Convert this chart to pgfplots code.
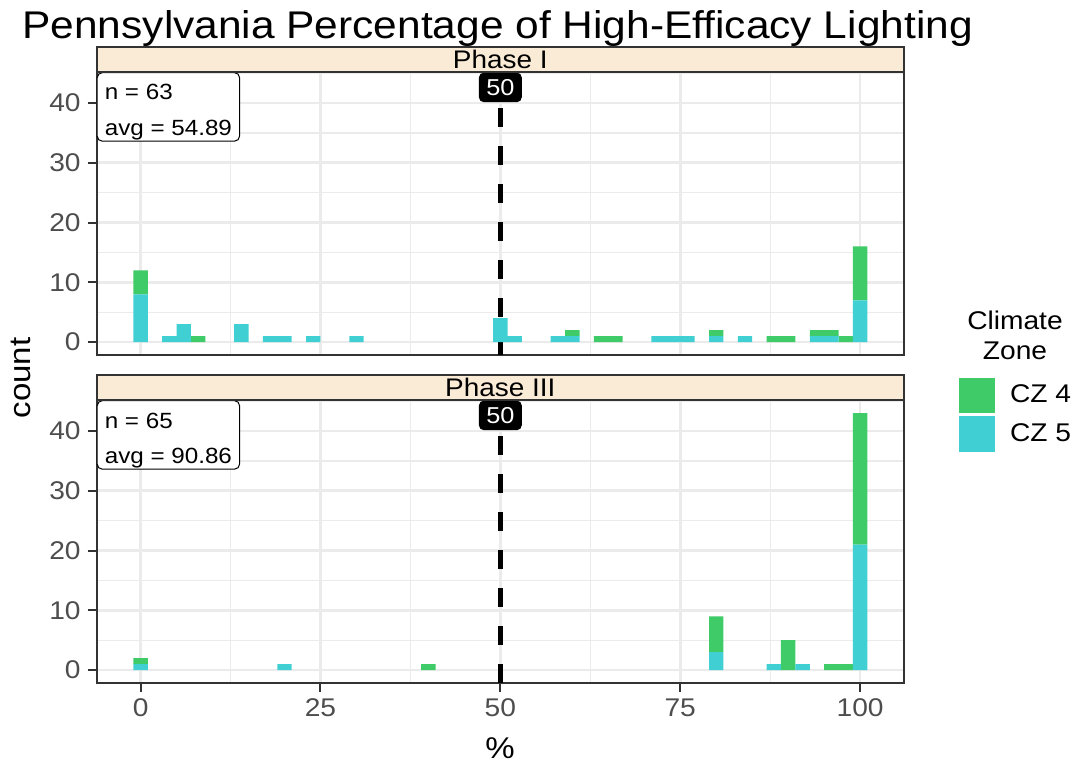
\documentclass[border=0pt]{standalone}
\usepackage{pgfplots}
\pgfplotsset{compat=1.18}
\usepackage{pgfplotstable}
\usepackage{fontspec}
\setmainfont{Liberation Sans}[FakeStretch=1.1]

\definecolor{czfour}{RGB}{63,203,104}
\definecolor{czfive}{RGB}{64,207,211}
\definecolor{gridc}{RGB}{235,235,235}
\definecolor{borderc}{RGB}{51,51,51}
\definecolor{ticklab}{RGB}{77,77,77}
\definecolor{stripc}{RGB}{250,235,215}

% Phase I histogram counts (bin centre, CZ 5, CZ 4)
\pgfplotstableread{
bin cz5 cz4
0   8 4
4   1 0
6   3 0
8   0 1
14  3 0
18  1 0
20  1 0
24  1 0
30  1 0
50  4 0
52  1 0
58  1 0
60  1 1
64  0 1
66  0 1
72  1 0
74  1 0
76  1 0
80  1 1
84  1 0
88  0 1
90  0 1
94  1 1
96  1 1
98  0 1
100 7 9
}\phaseone

% Phase III histogram counts
\pgfplotstableread{
bin cz5 cz4
0   1 1
20  1 0
40  0 1
80  3 6
88  1 0
90  0 5
92  1 0
96  0 1
98  0 1
100 21 22
}\phasethree

\pgfplotsset{
  panel/.style={
    width=403.65pt, height=141.4pt, scale only axis,
    xmin=-6.1, xmax=106.1, ymin=-2.15, ymax=45.15,
    xtick={0,25,50,75,100}, ytick={0,10,20,30,40},
    minor xtick={12.5,37.5,62.5,87.5}, minor ytick={5,15,25,35,45},
    xmajorgrids, ymajorgrids, xminorgrids, yminorgrids,
    major grid style={line width=1.3pt, color=gridc},
    minor grid style={line width=0.65pt, color=gridc},
    axis line style={line width=1pt, color=borderc},
    tick align=outside, xtick pos=bottom, ytick pos=left,
    major tick length=4.5pt, minor tick length=0pt,
    every tick/.style={line width=1pt, color=borderc},
    tick label style={font=\fontsize{12.8}{14}\selectfont, text=ticklab},
    /pgf/number format/assume math mode=true,
    ybar stacked, bar width=2,
    clip=false,
  },
}
\tikzset{
  strip/.style={fill=stripc, draw=borderc, line width=1pt},
  striptext/.style={font=\fontsize{12.7}{14}\selectfont, inner sep=0pt},
  annot/.style={draw=black, line width=0.5pt, fill=white, rounded corners=2.5pt,
    anchor=north west, align=left, font=\fontsize{11}{17.8}\selectfont,
    inner xsep=3.8pt, inner ysep=0.5pt},
  refline/.style={line width=2.5pt, black, dash pattern=on 9.5pt off 9.5pt},
  reflabel/.style={fill=black, text=white, rounded corners=2.5pt, anchor=north,
    font=\fontsize{11.5}{13}\selectfont, inner xsep=3.7pt, inner ysep=3.3pt,
    text height=8.2pt, text depth=0pt},
}

\begin{document}
\begin{tikzpicture}
\useasboundingbox (0,0) rectangle (538pt,382.5pt);

% Title
\node[anchor=base west, inner sep=0pt, font=\fontsize{19.3}{22}\selectfont]
  at (11pt,363pt) {Pennsylvania Percentage of High-Efficacy Lighting};

% ---------- Phase I ----------
\begin{axis}[panel,
  at={(48.35pt,205pt)}, anchor=south west,
  xticklabels={}, xtick style={draw=none},
  legend style={at={(1.0685,-0.0803)}, anchor=north west, draw=none, fill=none,
    inner sep=0pt, outer sep=0pt, row sep=1.35pt,
    font=\fontsize{12.8}{14}\selectfont,
    nodes={inner sep=0pt, anchor=west},
    /tikz/every odd column/.style={column sep=7.5pt}},
  legend cell align=left,
  legend image code/.code={\fill (0pt,-8.9pt) rectangle (17.85pt,8.9pt);},
]
\addplot[fill=czfive, draw=none, forget plot] table[x=bin, y=cz5] {\phaseone};
\addplot[fill=czfour, draw=none, forget plot] table[x=bin, y=cz4] {\phaseone};
\addlegendimage{fill=czfour, draw=none}
\addlegendentry{CZ 4}
\addlegendimage{fill=czfive, draw=none}
\addlegendentry{CZ 5}
\draw[refline] (axis cs:50,-2.15) -- (axis cs:50,45.15);
\coordinate (a50) at (axis cs:50,45.15);
\coordinate (anw) at (rel axis cs:0,1);
\coordinate (ane) at (rel axis cs:1,1);
\coordinate (an) at (rel axis cs:0.5,1);
\end{axis}
\node[reflabel] at (a50) {50};
\node[annot] at (anw) {\rule{0pt}{13.15pt}n = 63\\avg = 54.89};
\draw[strip] (anw) rectangle ([yshift=12.65pt]ane);
\node[striptext] at ([yshift=6.3pt]an) {Phase I};

% ---------- Phase III ----------
\begin{axis}[panel,
  at={(48.35pt,41pt)}, anchor=south west,
]
\addplot[fill=czfive, draw=none] table[x=bin, y=cz5] {\phasethree};
\addplot[fill=czfour, draw=none] table[x=bin, y=cz4] {\phasethree};
\draw[refline] (axis cs:50,-2.15) -- (axis cs:50,45.15);
\coordinate (b50) at (axis cs:50,45.15);
\coordinate (bnw) at (rel axis cs:0,1);
\coordinate (bne) at (rel axis cs:1,1);
\coordinate (bn) at (rel axis cs:0.5,1);
\end{axis}
\node[reflabel] at (b50) {50};
\node[annot] at (bnw) {\rule{0pt}{13.15pt}n = 65\\avg = 90.86};
\draw[strip] (bnw) rectangle ([yshift=12.65pt]bne);
\node[striptext] at ([yshift=6.3pt]bn) {Phase III};

% Axis titles
\node[rotate=90, font=\fontsize{15}{18}\selectfont, inner sep=0pt] at (10.5pt,193.5pt) {count};
\node[font=\fontsize{15}{18}\selectfont, inner sep=0pt] at (250pt,8.5pt) {\%};

% Legend title
\node[align=center, font=\fontsize{12.8}{15}\selectfont, inner sep=0pt] at (507.5pt,215pt) {Climate\\Zone};
\end{tikzpicture}
\end{document}
